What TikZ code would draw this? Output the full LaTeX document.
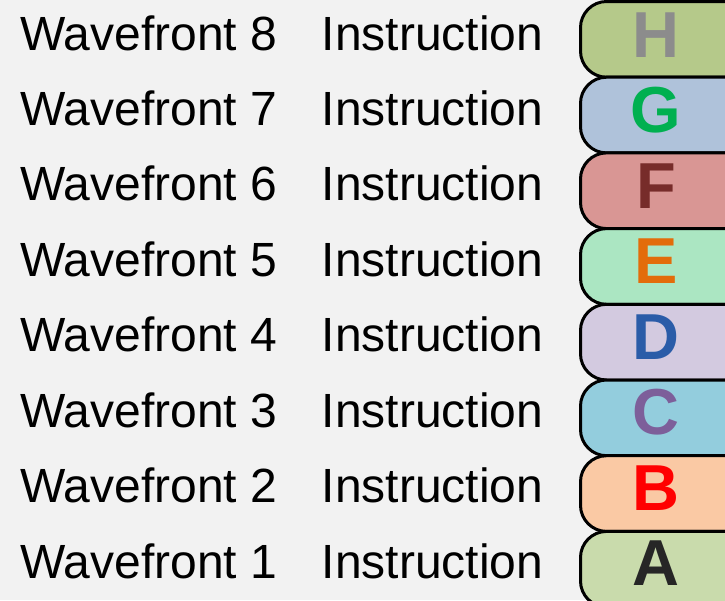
\documentclass[tikz,border=0pt]{standalone}
\usepackage{fontspec}
\setmainfont{Liberation Sans}
\begin{document}
\begin{tikzpicture}[x=1pt,y=-1pt,
  lbl/.style={anchor=base west,inner sep=0pt,font=\fontsize{48}{58}\selectfont,text=black},
  slot/.style={draw=black,line width=3pt},
  letter/.style={anchor=base,inner sep=0pt,font=\fontsize{65}{78}\selectfont\bfseries}]
\definecolor{bgc}{HTML}{F2F2F2}
\definecolor{bH}{HTML}{B5C98A}\definecolor{tH}{HTML}{8C8C8C}
\definecolor{bG}{HTML}{AFC2DA}\definecolor{tG}{HTML}{00B050}
\definecolor{bF}{HTML}{D99694}\definecolor{tF}{HTML}{772C2A}
\definecolor{bE}{HTML}{ABE6C2}\definecolor{tE}{HTML}{E36C0A}
\definecolor{bD}{HTML}{D3CAE0}\definecolor{tD}{HTML}{2A5CA8}
\definecolor{bC}{HTML}{93CDDD}\definecolor{tC}{HTML}{7D5F9A}
\definecolor{bB}{HTML}{FAC9A4}\definecolor{tB}{HTML}{FF0000}
\definecolor{bA}{HTML}{C9DBAC}\definecolor{tA}{HTML}{262626}
\useasboundingbox (0,0) rectangle (725,600);
\fill[bgc] (0,0) rectangle (725,600);
\begin{scope}
\clip (0,0) rectangle (725,600);
\foreach \L/\n [count=\k from 0] in {H/8,G/7,F/6,E/5,D/4,C/3,B/2,A/1}{
  \pgfmathsetmacro{\ytop}{1.5+75.7*\k}
  \pgfmathsetmacro{\ybot}{1.5+75.7*(\k+1)}
  \pgfmathsetmacro{\base}{50+75.43*\k}
  \pgfmathsetmacro{\lbase}{57+75.5*\k}
  \draw[slot,fill=b\L] (790,\ytop) -- (606.5,\ytop)
     .. controls (592,\ytop) and (580.5,\ytop+12) .. (580.5,\ytop+26)
     -- (580.5,\ybot-26)
     .. controls (580.5,\ybot-12) and (592,\ybot) .. (606.5,\ybot)
     -- (790,\ybot) -- cycle;
  \node[lbl] (wf\n) at (20,\base) {Wavefront \n};
  \node[lbl] (in\n) at (321.5,\base) {Instruction};
  \node[letter,text=t\L] (let\L) at (656,\lbase) {\L};
}
\end{scope}
\end{tikzpicture}
\end{document}
